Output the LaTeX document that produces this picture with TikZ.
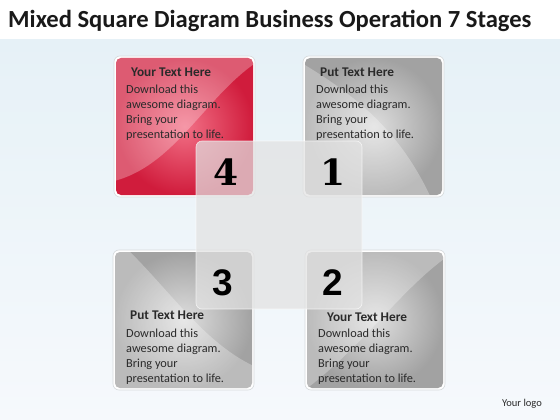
\documentclass[tikz,border=0pt]{standalone}
\usepackage{fontspec}
\setmainfont{Carlito}
\newfontfamily\slabfont{DejaVu Serif}
\newfontfamily\numsans{Liberation Sans}
\definecolor{bgtop}{HTML}{E6F1F7}
\definecolor{bgbot}{HTML}{F6F9FC}
\definecolor{redin}{HTML}{F27086}
\definecolor{redout}{HTML}{D01C3C}
\definecolor{grayin}{HTML}{DEDEDE}
\definecolor{grayout}{HTML}{A2A2A2}
\definecolor{framec}{HTML}{D6DADC}
\definecolor{centerc}{HTML}{E2E2E2}
\definecolor{txt}{HTML}{2A2A2A}
\tikzset{
  frame/.style={fill=white, draw=framec, line width=0.6pt, rounded corners=6pt},
  redsq/.style={rounded corners=5pt, inner color=redin, outer color=redout},
  graysq/.style={rounded corners=5pt, inner color=grayin, outer color=grayout},
  sheen/.style={fill=white, opacity=0.28},
  head/.style={anchor=base west, inner sep=0pt, font=\fontsize{13.3}{15}\selectfont\bfseries, text=txt},
  body/.style={anchor=base west, inner sep=0pt, font=\fontsize{12.3}{14}\selectfont, text=txt},
  numserif/.style={inner sep=0pt, font=\slabfont\bfseries\fontsize{36}{40}\selectfont, text=black},
  numsans/.style={inner sep=0pt, font=\numsans\bfseries\fontsize{37}{40}\selectfont, text=black}
}
\begin{document}
\begin{tikzpicture}[x=1pt,y=-1pt]
\useasboundingbox (0,0) rectangle (560,420);
\fill[white] (0,0) rectangle (560,420);
\shade[top color=bgtop, bottom color=bgbot] (0,40) rectangle (560,420);

% title
\node[anchor=base west, inner sep=0pt, font=\fontsize{24.6}{28}\selectfont\bfseries, text=black!90] (title) at (8,28) {Mixed Square Diagram Business Operation 7 Stages};

% top-left red square
\draw[frame] (114,56) rectangle (255,197);
\shade[redsq] (116,58) rectangle (253,195);
\begin{scope}
\clip[rounded corners=5pt] (116,58) rectangle (253,195);
\fill[sheen] (110,52) -- (110,182) .. controls (175,168) and (205,95) .. (260,60) -- (260,52) -- cycle;
\end{scope}

% top-right gray square
\draw[frame] (303,56) rectangle (444,197);
\shade[graysq] (305,58) rectangle (442,195);
\begin{scope}
\clip[rounded corners=5pt] (305,58) rectangle (442,195);
\fill[sheen] (300,62) .. controls (355,95) and (400,130) .. (432,200) -- (300,200) -- cycle;
\end{scope}

% bottom-left gray square
\draw[frame] (113,250) rectangle (254,390);
\shade[graysq] (115,252) rectangle (252,388);
\begin{scope}
\clip[rounded corners=5pt] (115,252) rectangle (252,388);
\fill[sheen] (110,246) -- (124,246) .. controls (170,290) and (205,345) .. (258,368) -- (258,395) -- (110,395) -- cycle;
\end{scope}

% bottom-right gray square
\draw[frame] (305,250) rectangle (445,390);
\shade[graysq] (307,252) rectangle (443,388);
\begin{scope}
\clip[rounded corners=5pt] (307,252) rectangle (443,388);
\fill[sheen] (302,392) .. controls (360,350) and (400,290) .. (448,256) -- (448,246) -- (302,246) -- cycle;
\end{scope}

% centre translucent square
\fill[centerc, opacity=0.72, rounded corners=6pt] (196,141) rectangle (362,309);
\draw[white, opacity=0.7, line width=0.6pt, rounded corners=6pt] (196,141) rectangle (362,309);

% numbers
\node[numserif] (n4) at (226,172) {4};
\node[numserif] (n1) at (333,172) {1};
\node[numsans] (n3) at (223,283) {3};
\node[numsans] (n2) at (333,283) {2};

% texts
\node[head] (h4) at (131,77) {Your Text Here};
\foreach \t [count=\i] in {Download this, awesome diagram., Bring your, presentation to life.}
  \node[body] (ba\i) at (126,78+15*\i) {\t};

\node[head] (h1) at (320,77) {Put Text Here};
\foreach \t [count=\i] in {Download this, awesome diagram., Bring your, presentation to life.}
  \node[body] (bb\i) at (316,78+15*\i) {\t};

\node[head] (h3) at (130,319) {Put Text Here};
\foreach \t [count=\i] in {Download this, awesome diagram., Bring your, presentation to life.}
  \node[body] (bc\i) at (126,322+15*\i) {\t};

\node[head] (h2) at (327,321) {Your Text Here};
\foreach \t [count=\i] in {Download this, awesome diagram., Bring your, presentation to life.}
  \node[body] (bd\i) at (318,322+15*\i) {\t};

% logo
\node[inner sep=0pt, font=\fontsize{10.5}{12}\selectfont, text=txt] (logo) at (522,404) {Your logo};
\end{tikzpicture}
\end{document}
